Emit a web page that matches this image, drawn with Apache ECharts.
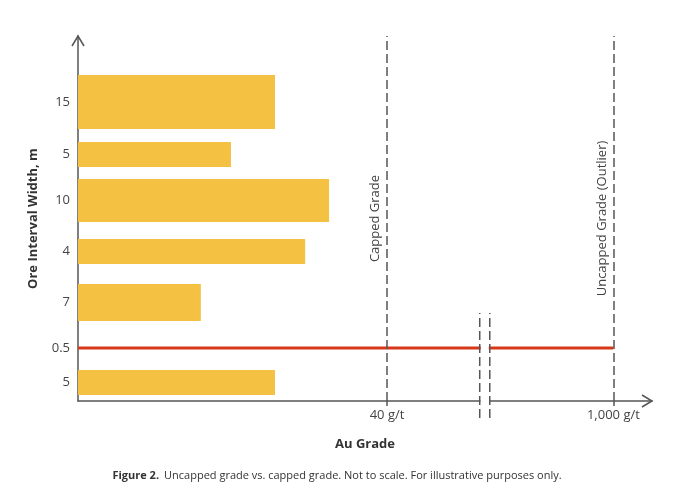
<!DOCTYPE html>
<html><head><meta charset="utf-8">
<script src="https://cdn.jsdelivr.net/npm/echarts@6/dist/echarts.min.js"></script>
<style>html,body{margin:0;padding:0;background:#fff}#c{width:674px;height:491px}</style>
</head><body><div id="c"></div>
<script>
// Ore intervals, listed bottom to top (schematic, not to scale)
const widthLabels    = ['5', '0.5', '7', '4', '10', '5', '15'];
const intervalBottom = [1.2, 10.3, 16.0, 27.4, 35.8, 46.8, 54.4];
const intervalTop    = [6.2, 10.9, 23.4, 32.4, 44.4, 51.8, 65.2];
const auGrade        = [25.5, 1000, 15.9, 29.4, 32.5, 19.8, 25.5];
const isOutlier      = [false, true, false, false, false, false, false];
const cappedGrade = 40;
const uncappedGrade = 1000;
const gradeTicks = [40, 1000];
const gradeTickLabels = ['40 g/t', '1,000 g/t'];
const axisBreak = { start: 52, end: 984, gap: 1.3 };

const FONT = "'Open Sans', sans-serif";
const YELLOW = '#F5C142';
const RED = '#D7381A';
const AXIS = '#555555';

const centers = intervalBottom.map((b, i) => (b + intervalTop[i]) / 2);
const data = auGrade.map((g, i) => [g, intervalBottom[i], intervalTop[i], isOutlier[i] ? 1 : 0]);

const chart = echarts.init(document.getElementById('c'), null, { renderer: 'canvas' });
chart.setOption({
  animation: false,
  backgroundColor: '#fff',
  title: {
    text: '{b|Figure 2.} {n|Uncapped grade vs. capped grade. Not to scale. For illustrative purposes only.}',
    left: 'center', top: 462,
    textStyle: {
      fontWeight: 'normal',
      rich: {
        b: { fontFamily: FONT, fontSize: 11, fontWeight: 'bold', color: '#333' },
        n: { fontFamily: FONT, fontSize: 11, fontWeight: 'normal', color: '#333' }
      }
    }
  },
  grid: { left: 78, right: 22, top: 36, bottom: 90 },
  xAxis: {
    type: 'value', min: 0, max: 1005,
    breaks: [axisBreak],
    breakArea: { show: false },
    name: 'Au Grade', nameLocation: 'middle', nameGap: 37,
    nameTextStyle: { fontFamily: FONT, fontSize: 13, fontWeight: 'bold', color: '#333' },
    axisLine: { show: true, lineStyle: { color: AXIS, width: 1.5 } },
    axisTick: { show: true, length: 5, customValues: gradeTicks, lineStyle: { color: AXIS, width: 1.5 } },
    axisLabel: {
      customValues: gradeTicks, margin: 8,
      fontFamily: FONT, fontSize: 13, color: '#444',
      formatter: v => { const i = gradeTicks.indexOf(v); return i >= 0 ? gradeTickLabels[i] : ''; }
    },
    splitLine: { show: false }
  },
  yAxis: {
    type: 'value', min: 0, max: 73,
    name: 'Ore Interval Width, m', nameLocation: 'middle', nameGap: 38,
    nameTextStyle: { fontFamily: FONT, fontSize: 13, fontWeight: 'bold', color: '#333' },
    axisLine: { show: true, lineStyle: { color: AXIS, width: 1.5 } },
    axisTick: { show: false },
    axisLabel: {
      customValues: centers, margin: 8,
      fontFamily: FONT, fontSize: 13, color: '#444',
      formatter: v => { const i = centers.findIndex(c => Math.abs(c - v) < 1e-6); return i >= 0 ? widthLabels[i] : ''; }
    },
    splitLine: { show: false }
  },
  series: [{
    type: 'custom',
    data: data,
    encode: { x: 0, y: [1, 2] },
    renderItem: (params, api) => {
      const g = api.value(0), lo = api.value(1), hi = api.value(2), red = api.value(3);
      const p0 = api.coord([0, hi]);
      const p1 = api.coord([g, lo]);
      return {
        type: 'rect', z2: 1,
        shape: { x: p0[0], y: p0[1], width: p1[0] - p0[0], height: p1[1] - p0[1] },
        style: { fill: red ? RED : YELLOW }
      };
    },
    markLine: {
      silent: true, symbol: 'none',
      lineStyle: { color: AXIS, width: 1.5, type: [9, 4] },
      label: { position: 'insideMiddleTop', distance: 5, fontFamily: FONT, fontSize: 13, color: '#444' },
      data: [
        { xAxis: cappedGrade, label: { formatter: 'Capped Grade' } },
        { xAxis: uncappedGrade, label: { formatter: 'Uncapped Grade (Outlier)' } }
      ]
    }
  }]
});

// decorations: open arrow heads and axis-break marks
const origin = chart.convertToPixel({ gridIndex: 0 }, [0, 0]);
const yTop = chart.convertToPixel({ yAxisIndex: 0 }, 73);
const xEnd = chart.convertToPixel({ xAxisIndex: 0 }, 1005);
const bx0 = chart.convertToPixel({ xAxisIndex: 0 }, axisBreak.start);
const bx1 = chart.convertToPixel({ xAxisIndex: 0 }, axisBreak.end);
const ox = origin[0], oy = origin[1];
const dash = { stroke: AXIS, lineWidth: 1.5, lineDash: [9, 4] };
chart.setOption({
  graphic: [
    { type: 'polyline', shape: { points: [[ox - 6, yTop + 10], [ox, yTop], [ox + 6, yTop + 10]] }, style: { stroke: AXIS, lineWidth: 1.5, fill: null }, z: 60 },
    { type: 'polyline', shape: { points: [[xEnd - 10, oy - 6], [xEnd, oy], [xEnd - 10, oy + 6]] }, style: { stroke: AXIS, lineWidth: 1.5, fill: null }, z: 60 },
    { type: 'rect', shape: { x: bx0 + 1, y: oy - 90, width: bx1 - bx0 - 2, height: 95 }, style: { fill: '#fff' }, z: 50 },
    { type: 'line', shape: { x1: bx0, y1: oy + 17, x2: bx0, y2: oy - 88 }, style: dash, z: 51 },
    { type: 'line', shape: { x1: bx1, y1: oy + 17, x2: bx1, y2: oy - 88 }, style: dash, z: 51 }
  ]
});
</script>
</body></html>
